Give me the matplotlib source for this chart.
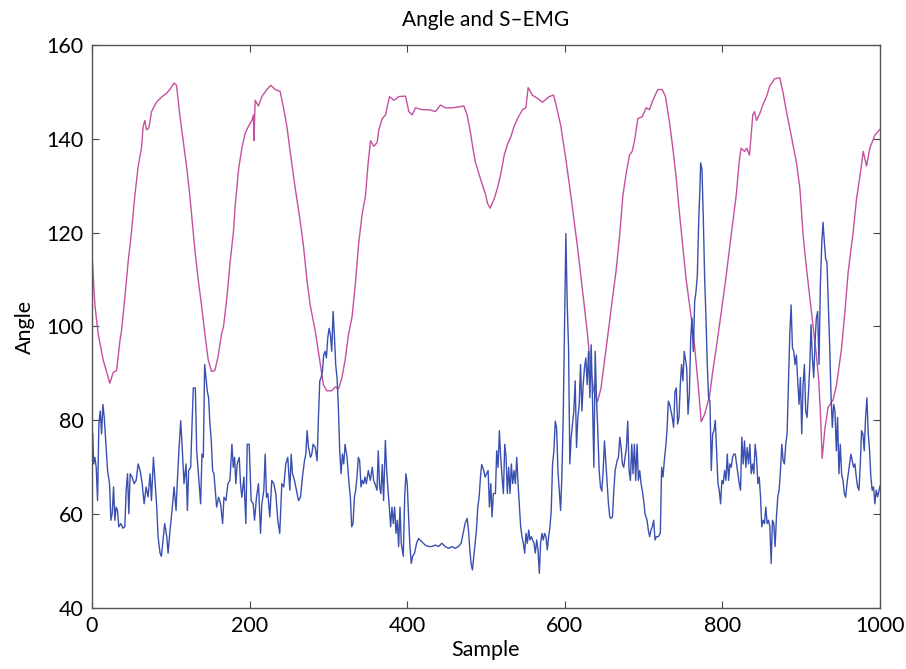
import numpy as np
import matplotlib
matplotlib.use('Agg')
import matplotlib.pyplot as plt

# Knee angle (magenta), (sample, degrees)
angle_points = [
    (0.3, 114.7), (3.7, 104.6), (7.9, 98.4), (14.2, 92.9), (22.7, 87.9), (26.9, 90.2), (31.2, 90.6),
    (35.4, 96.8), (37.5, 99.1), (41.7, 106.1), (46, 113.9), (50.2, 120.2), (54.4, 127.9), (58.7, 134.2),
    (62.9, 138.1), (65, 142.7), (67.1, 143.9), (69.2, 141.9), (72.2, 142.3), (75.6, 145.8), (81.9, 147.8),
    (88.3, 148.9), (94.6, 149.7), (98.8, 150.5), (104.3, 151.9), (107.3, 151.4), (111.5, 145),
    (115.8, 139.6), (120, 134.2), (124.2, 127.9), (130.6, 116.3), (134.8, 110), (139, 104.6),
    (143.3, 98.4), (147.5, 92.9), (151.7, 90.4), (155.9, 90.6), (160.2, 93.7), (164.4, 98.4),
    (166.9, 99.9), (171.2, 106.1), (175.4, 113.9), (179.6, 120.2), (181.7, 125.6), (186, 133.4),
    (190.2, 138), (194.4, 141.2), (198.7, 142.7), (202.9, 143.9), (205, 145.1), (205.6, 139.6),
    (207.1, 148.2), (211.3, 147), (215.6, 149), (221.9, 150.5), (227, 151.4), (232.5, 150.5),
    (238.8, 150.1), (243.1, 146.6), (247.3, 142.7), (251.5, 137.3), (257.9, 129.5), (264.2, 122.5),
    (268.5, 117), (272.7, 110), (276.9, 104.6), (283.3, 99.1), (289.6, 92.1), (293.8, 87.5),
    (298.1, 86.3), (304.4, 86.3), (308.6, 87.1), (312.9, 86.7), (317.1, 89), (321.3, 92.9),
    (325.6, 98.4), (330, 102), (334.2, 109), (338.5, 117.8), (342.9, 124), (347.1, 127.9),
    (350.5, 134.9), (353.5, 139.6), (357.7, 138.4), (361.9, 139.2), (364, 141.9), (368.3, 144.3),
    (372.5, 145.1), (377.6, 149), (383.1, 148.2), (389.4, 149), (397.9, 149.1), (402.1, 145.8),
    (406.3, 145.1), (410.6, 146.6), (419, 146.2), (427.5, 146.2), (436, 145.8), (442.3, 147.2),
    (448.6, 146.6), (457.1, 146.6), (465.6, 146.8), (471.9, 147), (476.1, 145.1), (480.4, 141.2),
    (483.3, 138.1), (486.7, 134.9), (490.9, 132.6), (495.2, 130.3), (499.4, 128.2), (502, 126.2),
    (505.3, 125.2), (510.4, 127.2), (514.6, 129.5), (518.9, 132.6), (523.1, 136.5), (527.3, 138.8),
    (531.5, 140.4), (535.8, 142.7), (540, 144.3), (546.3, 146.2), (550.6, 146.6), (553.5, 150.9),
    (559, 149.3), (565.4, 148.6), (571.7, 147.8), (580.2, 149), (585.7, 149.3), (588.7, 147.4),
    (595, 142.7), (601.3, 135.7), (607.7, 127.9), (611.9, 122.5), (616.1, 117), (620.4, 110.8),
    (624.6, 104.6), (628.8, 98.4), (633.1, 90.6), (637.3, 85.9), (641.5, 84), (645.8, 86.7),
    (650, 92.1), (654.2, 97.6), (660.6, 106.1), (665.2, 112), (669.4, 119), (673.7, 127.9),
    (677.9, 132.6), (682.1, 136.5), (685.5, 137.3), (688.5, 139.6), (692.7, 144.3), (698.2, 144.7),
    (703.3, 146.6), (707.5, 146.2), (711.7, 148.2), (718.1, 150.5), (723.6, 150.5), (727.8, 149),
    (732.9, 143.5), (737.1, 138), (741.3, 131.8), (745.6, 124), (749.8, 117), (754, 110),
    (758.3, 104.6), (763.3, 98.4), (766.7, 92.1), (770.1, 85.9), (773.1, 79.7), (777.3, 81.2),
    (783.6, 85.1), (787.9, 90.6), (792.1, 95.3), (798.5, 103), (804.8, 110.8), (811.1, 119.4),
    (817.5, 127.9), (821.7, 135.7), (823.8, 138), (828.1, 137.3), (831, 138), (834.4, 136.5),
    (838.6, 145.1), (840.8, 145.8), (843.3, 143.9), (847.5, 145.4), (851.7, 147.4), (856, 149),
    (860.2, 151.3), (866.5, 152.8), (872.9, 153), (877.1, 149.7), (881.3, 145.8), (887.7, 140.4),
    (894, 134.9), (898.3, 129.5), (902.5, 119.4), (906.7, 112.4), (911, 106.1), (915.2, 99.9),
    (919.4, 93.7), (922.4, 88.2), (924.9, 79.7), (926.6, 71.9), (928.3, 75), (930, 78.1),
    (934.2, 82.8), (940.6, 84.4), (944.8, 87.5), (951.2, 95.3), (955.4, 103), (959.6, 111.6),
    (966, 120.2), (970.2, 127.2), (974.4, 131.8), (978.7, 137.3), (982.9, 134.2), (987.1, 138),
    (993.5, 140.8), (997.7, 141.6), (1000, 142),
]

# S-EMG envelope (blue), (sample, value)
emg_points = [
    (1, 77.1), (2.1, 70.7), (3.7, 72.1), (5.4, 70), (7.1, 62.9), (8.8, 79.2), (10.5, 82), (12.2, 77.1),
    (13.9, 83.4), (15.6, 80.6), (17.2, 76.4), (19.8, 69.3), (22.3, 66.5), (24, 58.7), (25.7, 60.1),
    (27.4, 65.8), (29.1, 58.7), (30.7, 61.5), (32.4, 60.8), (34.1, 57.3), (36.6, 58), (39.2, 57),
    (41.7, 57.3), (43.4, 65.1), (45.1, 68.6), (46.8, 60.1), (48.5, 68.6), (51, 67.9), (53.5, 66.5),
    (56.1, 67.2), (58.6, 70.7), (61.1, 69.3), (63.7, 66.5), (66.2, 62.2), (68.7, 65.8), (71.2, 63.7),
    (73.8, 68.6), (75.5, 62.9), (78, 72.1), (80.5, 65.8), (82.2, 61.5), (83.9, 55.2), (86.4, 51.7),
    (88.1, 51), (89.8, 53.8), (92.3, 58), (94.9, 55.2), (96.6, 51.7), (99.1, 56.6), (101.6, 60.8),
    (104.2, 65.8), (106.7, 60.8), (108.4, 67.2), (110.1, 72.8), (112.6, 79.9), (114.3, 74.9),
    (116.8, 66.5), (119.4, 70.7), (121.1, 60.8), (122.7, 69.3), (125.3, 70), (127, 79.2), (128.6, 86.9),
    (131.2, 86.9), (132.9, 73.5), (135.4, 67.9), (137.9, 62.2), (139.6, 72.8), (141.3, 72.1),
    (143, 91.9), (144.7, 89.1), (146.4, 86.2), (148, 84.8), (149.7, 79.2), (151.4, 75.7), (153.1, 69.3),
    (154.8, 68.6), (156.5, 65.1), (158.2, 61.5), (160.7, 63.6), (163.2, 62.2), (165.8, 58),
    (167.5, 63.6), (170, 62.9), (172.5, 66.5), (175.1, 67.2), (177.6, 74.9), (179.3, 70), (181, 72.1),
    (182.6, 66.5), (184.3, 70.7), (186.9, 72.1), (188.5, 66.5), (190.2, 63.6), (192.8, 67.9),
    (195.3, 58), (197, 74.9), (199.5, 74.9), (202, 62.9), (204.6, 62.2), (206.3, 58.7), (208.8, 63.6),
    (211.3, 66.5), (213.9, 55.9), (215.6, 62.2), (218.1, 65.1), (219.8, 72.8), (221.5, 63.6),
    (223.2, 64.4), (225.7, 59.4), (228.2, 67.2), (230.7, 66.5), (233.3, 64.4), (235.8, 58.7),
    (238.3, 55.9), (240.9, 66.5), (243.4, 65.8), (245.9, 70.7), (248.5, 72.1),
    (251.1, 65.1), (252.8, 72.8), (254.5, 68.6), (257, 67.2), (259.5, 65.1), (262.1, 62.9),
    (264.6, 63.6), (267.1, 67.9), (269.7, 71.4), (271.4, 72.8), (273, 77.8), (274.7, 74.3),
    (277.3, 72.1), (279, 72.8), (280.6, 74.9), (283.2, 74.3), (285.7, 71.4), (287.4, 80.6),
    (289.1, 88.4), (290.8, 89.1), (292.5, 90.5), (294.1, 94), (295.8, 94.7), (297.5, 93.3),
    (299.2, 97.5), (300.9, 99.6), (302.6, 98.2), (304.3, 94.7), (306, 103.2), (307.6, 98.2),
    (309.3, 91.9), (311, 89.1), (312.7, 82.7), (314.4, 73.5), (316.1, 68.6), (317.8, 72.8),
    (319.5, 70.7), (321.2, 74.9), (323.7, 72.1), (326.2, 66.5), (327.9, 63.6), (329.6, 57.3),
    (331.3, 58), (333, 63.6), (334.7, 65.1), (336.3, 67.9), (338, 72.1), (339.7, 71.4), (341.4, 65.8),
    (343.1, 67.2), (344.8, 66.5), (346.5, 67.9), (348.2, 66.5), (350.7, 69.3), (353.2, 67.2),
    (355.7, 70), (357.4, 67.2), (359.1, 66.5), (361.7, 65.1), (363.3, 73.5), (365, 65.8), (366.7, 64.4),
    (368.4, 70.6), (370.1, 62.9), (372.3, 75.7), (374, 69.3), (375.7, 65.1), (377.3, 61.5), (379, 57.3),
    (380.7, 61.5), (382.4, 58), (384.1, 61.5), (385.8, 55.9), (387.5, 58.7), (389.2, 53.1),
    (390.9, 61.5), (392.5, 53.8), (395.1, 51), (396.8, 63.6), (398.4, 68.6), (400.1, 66.5),
    (401.8, 59.4), (403.5, 53.1), (405.2, 49.5), (406.9, 51), (409.4, 51.7), (411.9, 53.8),
    (414.5, 54.8), (418.7, 54.1), (422.9, 53.4), (427.1, 53.1), (431.3, 53.1), (435.6, 53.4),
    (439.8, 53.1), (444, 53.8), (448.2, 53.1), (452.4, 52.7), (456.7, 53.1), (460.9, 52.7),
    (465.1, 53.1), (468.5, 53.8), (471, 55.9), (473.5, 58), (476.1, 59.1), (477.8, 56.6), (479.5, 52.4),
    (481.1, 49.5), (482.8, 48.1), (484.5, 51), (486.2, 53.8), (487.9, 56.6), (489.6, 61.5),
    (491.3, 63.6), (493, 67.9), (494.6, 70.6), (497.2, 69.3), (498.9, 67.9),
    (502.7, 69.3), (504.4, 61.5), (506.1, 66.5), (507.7, 59.4), (509.4, 64.4), (512, 64.4),
    (513.6, 73.5), (515.3, 70), (517, 77.8), (518.7, 72.1), (520.4, 67.9), (522.1, 64.4), (523.8, 74.9),
    (525.5, 72.1), (527.1, 64.4), (528.8, 70), (530.5, 64.4), (532.2, 70.7), (533.9, 66.5),
    (535.6, 69.3), (537.3, 66.5), (539, 72.1), (540.7, 66.5), (542.3, 62.2), (544, 57.3), (545.7, 55.2),
    (547.4, 53.8), (549.1, 51.7), (550.8, 55.9), (552.5, 53.8), (554.2, 56.6), (555.8, 54.5),
    (557.5, 55.2), (559.2, 54.5), (560.9, 53.8), (562.6, 51.7), (564.3, 54.5), (566, 52.4),
    (567.7, 47.4), (569.3, 53.8), (571, 55.9), (572.7, 54.5), (574.4, 55.9), (576.1, 55.2),
    (577.8, 52.4), (579.5, 55.2), (581.2, 57.3), (582.8, 60.8), (584.5, 70.7), (586.2, 73.5),
    (587.9, 79.8), (589.6, 78.4), (591.3, 69.3), (593, 65.1), (594.7, 60.8), (596.3, 68), (598, 80.6),
    (599.7, 99.6), (601.4, 119.8), (603.1, 104.6), (604.8, 95.4), (606.4, 70.7), (608.1, 76.4),
    (609.8, 79.2), (611.5, 82), (613.2, 88.4), (614.9, 74.2), (616.6, 80.6), (618.3, 83.4), (620, 91.9),
    (621.7, 82), (623.4, 87.6), (625, 91.2), (626.7, 93.3), (628.4, 87.6), (630.1, 94.7), (631.8, 84.8),
    (633.5, 96.1), (635.2, 84.1), (636.9, 70), (638.6, 94.7), (640.2, 84.8), (641.9, 77.8),
    (643.6, 69.3), (645.3, 65.8), (647, 64.9), (648.7, 69.3), (650.4, 75.6), (652, 71.4), (653.7, 67.2),
    (655.4, 62.2), (657.1, 59.4), (658.8, 59.1), (660.5, 59.4), (662.2, 64.9), (663.9, 69.3),
    (666.4, 71.4), (668.1, 72.1), (669.8, 76.4), (671.5, 74.2), (673.1, 70.7), (674.8, 70),
    (676.5, 72.1), (678.2, 74.2), (679.9, 79.8), (681.6, 69.3), (683.3, 67.2), (685, 74.9),
    (686.6, 68.6), (688.3, 74.9), (690, 67.2), (691.7, 74.9), (693.4, 67.2), (695.1, 69.3),
    (696.8, 66.5), (698.5, 64.9), (700.1, 62.9), (701.8, 60.1), (704.4, 58.7), (706, 56.6),
    (707.7, 55.2), (709.4, 56.6), (711.1, 57.3), (712.8, 58.7), (714.5, 54.5), (716.2, 55.2),
    (718.7, 55.2), (721.2, 55.9), (722.9, 70), (724.6, 67.9), (726.3, 71.4), (728, 74.2), (729.7, 77.8),
    (731.4, 84.1), (733.1, 83.4), (734.7, 82), (736.4, 80.6), (738.1, 78.5), (739.8, 86.1),
    (741.5, 86.9), (743.2, 79.2), (744.9, 80.6), (746.6, 87.6), (748.2, 91.9), (749.9, 88.4),
    (751.6, 94.7),
    (754.7, 91.2), (756.4, 81.3), (758.1, 85.5), (759.8, 97.5), (761.4, 101.8), (763.1, 94.7),
    (764.8, 105.3), (766.5, 107.4), (768.2, 110.9), (769.9, 122.2), (771.6, 130), (772.4, 134.9),
    (774.1, 133.5), (775.8, 122.9), (777.5, 110.2), (779.2, 101.8), (780.8, 91.9), (782.5, 84.8),
    (784.2, 84.1), (785.9, 69.3), (787.6, 77.1), (789.3, 77.8), (791, 80), (792.7, 73.5), (794.4, 66.5),
    (796, 65.1), (797.7, 62.2), (799.4, 67.2), (801.1, 66.5), (802.8, 69.3), (804.5, 67.2),
    (806.2, 72.8), (807.9, 67.2), (809.5, 70.7), (811.2, 70), (812.9, 72.1), (814.6, 72.8),
    (816.3, 72.8), (818, 70.7), (819.7, 68.6), (821.4, 66.5), (823, 65.1), (824.7, 76.4), (826.4, 70.7),
    (828.1, 75.6), (829.8, 70), (831.5, 74.2), (833.2, 70.7), (834.9, 74.9), (836.5, 68.6),
    (838.2, 70.7), (839.9, 68.6), (841.6, 74.9), (843.3, 72.1), (845, 66.5), (846.7, 67.9),
    (848.4, 63.7), (850, 57.3), (851.7, 58.7), (853.4, 58), (855.1, 61.5), (856.8, 58), (858.5, 58.7),
    (860.2, 57.3), (861.9, 49.5), (863.5, 58.7), (865.2, 58), (866.9, 53.1), (868.6, 59.4),
    (870.3, 63.7), (872, 65.1), (873.7, 69.3), (875.4, 74.9), (877.1, 71.4), (878.7, 70.7),
    (880.4, 74.9), (882.1, 77.1), (883.8, 87.6), (885.5, 98.2), (887.2, 104.6), (888.9, 95.4),
    (890.6, 94.7), (892.2, 91.9), (893.9, 93.9), (895.6, 88.4), (897.3, 83.4), (899, 89.1),
    (900.7, 77.1), (902.4, 87.6), (904.1, 91.9), (905.7, 82), (907.4, 80.6), (909.1, 85.5),
    (910.8, 91.2), (912.5, 100.4), (914.2, 93.3), (915.9, 89.1), (917.6, 96.8), (919.2, 101.8),
    (920.9, 103.2), (922.6, 91.9), (924.3, 108.8), (926, 117.3), (927.7, 122.2), (929.4, 118),
    (931.1, 114.3), (932.7, 113.8), (934.4, 105.3), (936.1, 96.1), (937.8, 85.5), (939.5, 78.5),
    (941.2, 83.4), (942.9, 82), (944.6, 73.5), (946.2, 80.6), (947.9, 68.6), (949.6, 74.9),
    (951.3, 68.6), (953, 67.2), (954.7, 64.4), (956.4, 63.6), (958.1, 66.5), (959.8, 68.6),
    (961.4, 70.7), (963.1, 72.8), (964.8, 71.4), (966.5, 70), (968.2, 70.7), (969.9, 67.9),
    (971.6, 65.8), (973.3, 65.1), (975, 70.7), (976.6, 77.8), (978.3, 77.1), (980, 73.5),
    (981.7, 80.6), (983.4, 84.8), (985.1, 77.1), (986.8, 73.5), (988.4, 67.9), (990.1, 65.1),
    (991.8, 65.8), (993.5, 62.2), (995.2, 65.1), (996.9, 63.7), (1000, 66),
]

x_ticks = [0, 200, 400, 600, 800, 1000]
y_ticks = [40, 60, 80, 100, 120, 140, 160]

plt.rcParams['font.family'] = ['Lato', 'DejaVu Sans']

fig = plt.figure(figsize=(9.06, 6.69), dpi=100)
ax = fig.add_axes([0.1015, 0.0912, 0.8698, 0.8416])

angle = np.array(angle_points)
emg = np.array(emg_points)
ax.plot(angle[:, 0], angle[:, 1], color='#c4509f', lw=1.0)
ax.plot(emg[:, 0], emg[:, 1], color='#3a50b0', lw=1.0)

ax.set_xlim(0, 1000)
ax.set_ylim(40, 160)
ax.set_xticks(x_ticks)
ax.set_yticks(y_ticks)
ax.tick_params(direction='in', length=5, width=0.8, color='#444444',
               top=True, right=True, labelsize=15.5, pad=6)
for sp in ax.spines.values():
    sp.set_color('#555555')
    sp.set_linewidth(1.0)

ax.set_title('Angle and S\u2013EMG', fontsize=15, pad=14)
ax.set_xlabel('Sample', fontsize=15.5, labelpad=3)
ax.set_ylabel('Angle', fontsize=15.5, labelpad=8)

fig.savefig('out.png', dpi=100, facecolor='white')
